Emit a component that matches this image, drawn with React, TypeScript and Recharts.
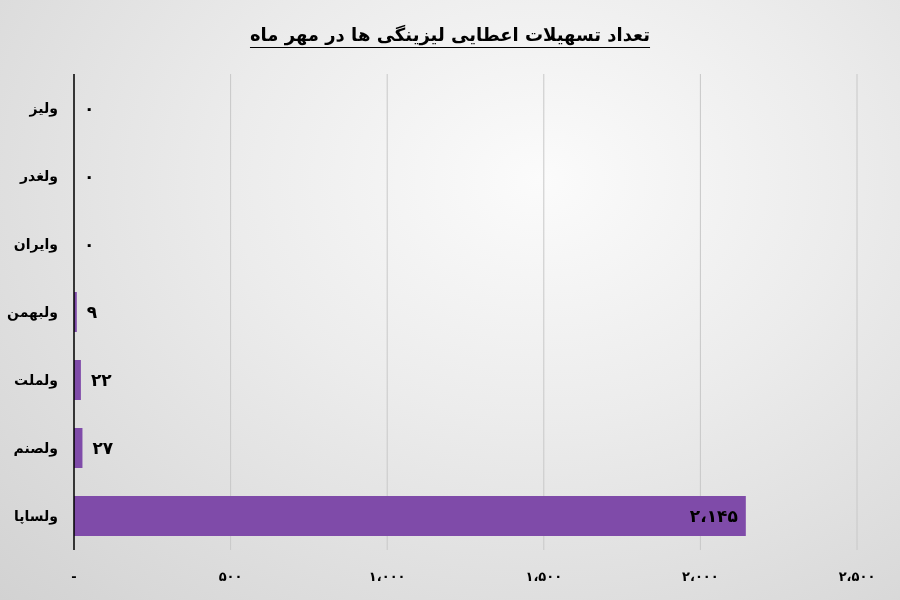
import React from "react";
import { BarChart, Bar, XAxis, YAxis, CartesianGrid, LabelList } from "recharts";

const title = "تعداد تسهیلات اعطایی لیزینگی ها در مهر ماه";
const categories = ["ولیز", "ولغدر", "وایران", "ولبهمن", "ولملت", "ولصنم", "ولساپا"];
const values = [0, 0, 0, 9, 22, 27, 2145];
const xTicks = [0, 500, 1000, 1500, 2000, 2500];
const xTickLabels = ["-", "۵۰۰", "۱،۰۰۰", "۱،۵۰۰", "۲،۰۰۰", "۲،۵۰۰"];

const data = categories.map((name, i) => ({ name, value: values[i] }));

const faDigits = "۰۱۲۳۴۵۶۷۸۹";
const toFa = (n: number) =>
  n
    .toLocaleString("en-US")
    .replace(/,/g, "،")
    .replace(/[0-9]/g, (d) => faDigits[Number(d)]);

const FONT = "'DejaVu Sans', sans-serif";

const BarLabel = (props: any) => {
  const { x, y, width, height, value } = props;
  const inside = value > 500;
  const tx = inside ? x + width - 8 : x + width + 10;
  return (
    <text
      x={tx}
      y={y + height / 2}
      dy="0.35em"
      textAnchor={inside ? "end" : "start"}
      fontFamily={FONT}
      fontWeight="bold"
      fontSize={17}
      fill="#000"
    >
      {toFa(value)}
    </text>
  );
};

export default function App() {
  return (
    <div
      style={{
        position: "fixed",
        left: 0,
        top: 0,
        width: 900,
        height: 600,
        background:
          "radial-gradient(ellipse at 60% 30%, #fbfbfb 0%, #ececec 40%, #d2d2d2 100%)",
        overflow: "hidden",
      }}
    >
      <div
        style={{
          position: "absolute",
          top: 24,
          left: 0,
          width: 900,
          textAlign: "center",
          direction: "rtl",
          fontFamily: FONT,
          fontWeight: "bold",
          fontSize: 18,
          color: "#000",
          textDecoration: "underline",
          textUnderlineOffset: 6,
        }}
      >
        {title}
      </div>
      <div style={{ position: "absolute", left: 0, top: 0 }}>
        <BarChart
          width={900}
          height={600}
          data={data}
          layout="vertical"
          margin={{ top: 74, right: 43, bottom: 0, left: 0 }}
        >
          <CartesianGrid horizontal={false} vertical={true} stroke="#c8c8c8" />
          <XAxis
            type="number"
            domain={[0, 2500]}
            ticks={xTicks}
            height={50}
            axisLine={false}
            tickLine={false}
            tickSize={0}
            tickMargin={22}
            interval={0}
            tickFormatter={(v: number) => xTickLabels[xTicks.indexOf(v)]}
            tick={{ fontFamily: FONT, fontWeight: "bold", fontSize: 13, fill: "#000" }}
          />
          <YAxis
            type="category"
            dataKey="name"
            width={74}
            axisLine={{ stroke: "#000", strokeWidth: 1.5 }}
            tickLine={false}
            tickSize={0}
            tickMargin={16}
            interval={0}
            tick={{ fontFamily: FONT, fontWeight: "bold", fontSize: 14, fill: "#000" }}
          />
          <Bar
            dataKey="value"
            fill="#7F4BA9"
            barSize={40}
            minPointSize={0.01}
            isAnimationActive={false}
          >
            <LabelList dataKey="value" content={<BarLabel />} />
          </Bar>
        </BarChart>
      </div>
    </div>
  );
}
